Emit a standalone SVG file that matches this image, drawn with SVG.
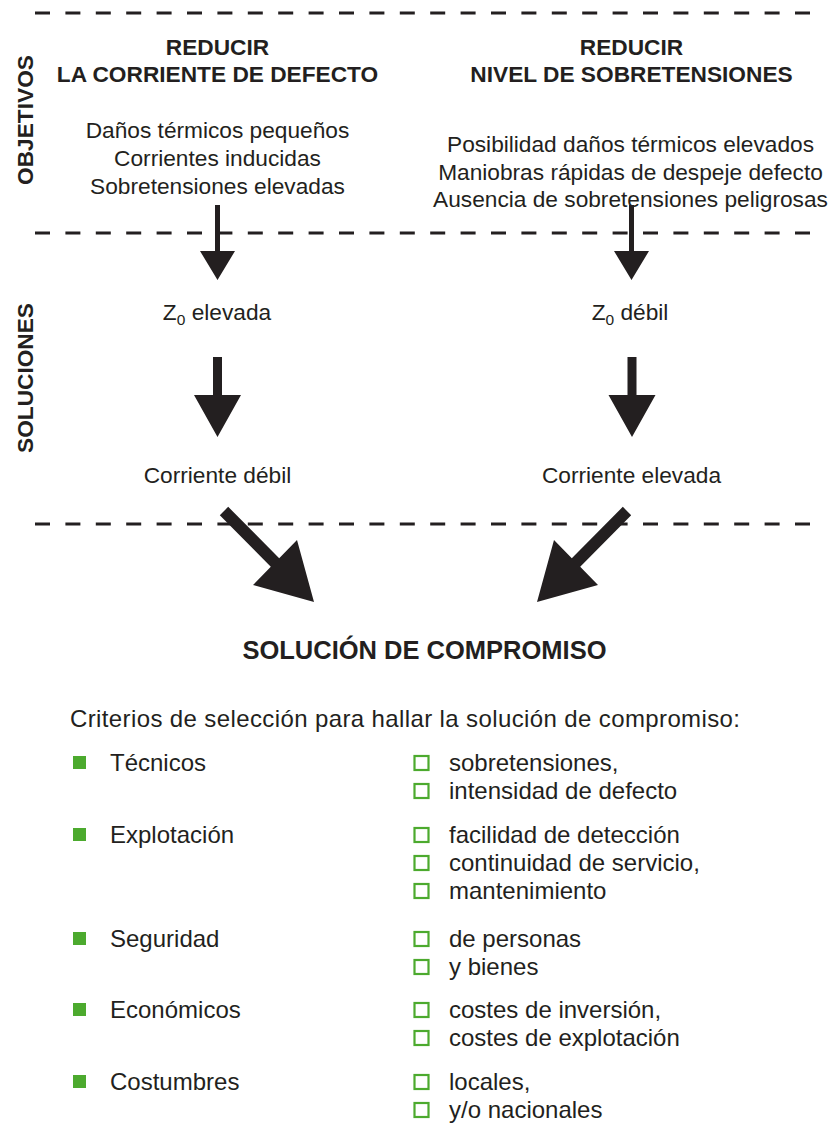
<svg xmlns="http://www.w3.org/2000/svg" width="833" height="1124" viewBox="0 0 833 1124">
<style>
text{font-family:"Liberation Sans",Arial,Helvetica,sans-serif;fill:#231f20;font-size:22.7px}
.b{font-weight:bold}
.c{text-anchor:middle}
.t{font-size:25.5px}
.l{font-size:24px}
.dash{stroke:#231f20;stroke-width:3;stroke-dasharray:15 15.4;fill:none}
.arr{fill:#231f20;stroke:none}
.sq{fill:#4caa2e}
.bx{fill:none;stroke:#4caa2e;stroke-width:2.2}
</style>
<rect width="833" height="1124" fill="#ffffff"/>
<g id="separators">
<line class="dash" x1="35" y1="13" x2="812" y2="13"/>
<line class="dash" x1="35" y1="233" x2="812" y2="233"/>
<line class="dash" x1="35" y1="524" x2="812" y2="524"/>
</g>
<g id="label-objetivos"><text class="b c" transform="translate(33,120) rotate(-90)">OBJETIVOS</text></g>
<g id="label-soluciones"><text class="b c" transform="translate(33,378) rotate(-90)">SOLUCIONES</text></g>
<g id="obj-left">
<text class="b c" x="217.5" y="55">REDUCIR</text>
<text class="b c" x="217.5" y="82">LA CORRIENTE DE DEFECTO</text>
<text class="c" x="217.5" y="138">Daños térmicos pequeños</text>
<text class="c" x="217.5" y="166">Corrientes inducidas</text>
<text class="c" x="217.5" y="194">Sobretensiones elevadas</text>
</g>
<g id="obj-right">
<text class="b c" x="631.5" y="55">REDUCIR</text>
<text class="b c" x="631.5" y="82">NIVEL DE SOBRETENSIONES</text>
<text class="c" x="630.5" y="152">Posibilidad daños térmicos elevados</text>
<text class="c" x="630.5" y="180">Maniobras rápidas de despeje defecto</text>
<text class="c" x="630.5" y="207">Ausencia de sobretensiones peligrosas</text>
</g>
<g id="z0-elevada"><text class="c" x="217" y="320">Z<tspan font-size="15.5" dy="5">0</tspan><tspan dy="-5"> elevada</tspan></text></g>
<g id="z0-debil"><text class="c" x="630" y="320">Z<tspan font-size="15.5" dy="5">0</tspan><tspan dy="-5"> débil</tspan></text></g>
<g id="corriente-debil"><text class="c" x="217.5" y="483">Corriente débil</text></g>
<g id="corriente-elevada"><text class="c" x="631.5" y="483">Corriente elevada</text></g>
<g id="compromiso"><text class="b c t" x="424.5" y="659">SOLUCIÓN DE COMPROMISO</text></g>
<g id="criterios">
<text class="l" x="70" y="727" textLength="670" lengthAdjust="spacing">Criterios de selección para hallar la solución de compromiso:</text>
<rect class="sq" x="73" y="756" width="13" height="13"/><text class="l" x="110" y="771">Técnicos</text>
<rect class="sq" x="73" y="828" width="13" height="13"/><text class="l" x="110" y="843">Explotación</text>
<rect class="sq" x="73" y="932" width="13" height="13"/><text class="l" x="110" y="947">Seguridad</text>
<rect class="sq" x="73" y="1003" width="13" height="13"/><text class="l" x="110" y="1018">Económicos</text>
<rect class="sq" x="73" y="1075" width="13" height="13"/><text class="l" x="110" y="1090">Costumbres</text>
<rect class="bx" x="414.5" y="756" width="14" height="14"/><text class="l" x="449" y="771">sobretensiones,</text>
<rect class="bx" x="414.5" y="784" width="14" height="14"/><text class="l" x="449" y="799">intensidad de defecto</text>
<rect class="bx" x="414.5" y="828" width="14" height="14"/><text class="l" x="449" y="843">facilidad de detección</text>
<rect class="bx" x="414.5" y="856" width="14" height="14"/><text class="l" x="449" y="871">continuidad de servicio,</text>
<rect class="bx" x="414.5" y="884" width="14" height="14"/><text class="l" x="449" y="899">mantenimiento</text>
<rect class="bx" x="414.5" y="932" width="14" height="14"/><text class="l" x="449" y="947">de personas</text>
<rect class="bx" x="414.5" y="960" width="14" height="14"/><text class="l" x="449" y="975">y bienes</text>
<rect class="bx" x="414.5" y="1003" width="14" height="14"/><text class="l" x="449" y="1018">costes de inversión,</text>
<rect class="bx" x="414.5" y="1031" width="14" height="14"/><text class="l" x="449" y="1046">costes de explotación</text>
<rect class="bx" x="414.5" y="1075" width="14" height="14"/><text class="l" x="449" y="1090">locales,</text>
<rect class="bx" x="414.5" y="1103" width="14" height="14"/><text class="l" x="449" y="1118">y/o nacionales</text>
</g>
<g id="connectors">
<polygon class="arr" points="215,205 220,205 220,251 235,251 217.5,280 200,251 215,251"/>
<polygon class="arr" points="629,205 634,205 634,251 649,251 631.5,280 614,251 629,251"/>
<polygon class="arr" points="213,357 222,357 222,395 241,395 217.5,437 194,395 213,395"/>
<polygon class="arr" points="627.5,357 636.5,357 636.5,395 655.5,395 632,437 608.5,395 627.5,395"/>
<polygon class="arr" points="228.2,506.8 279.2,558.3 297,540 314,602 253,585 270.8,566.7 219.8,515.2"/>
<polygon class="arr" points="622.8,506.8 571.8,558.3 554,540 537,602 598,585 580.2,566.7 631.2,515.2"/>
</g>
</svg>
